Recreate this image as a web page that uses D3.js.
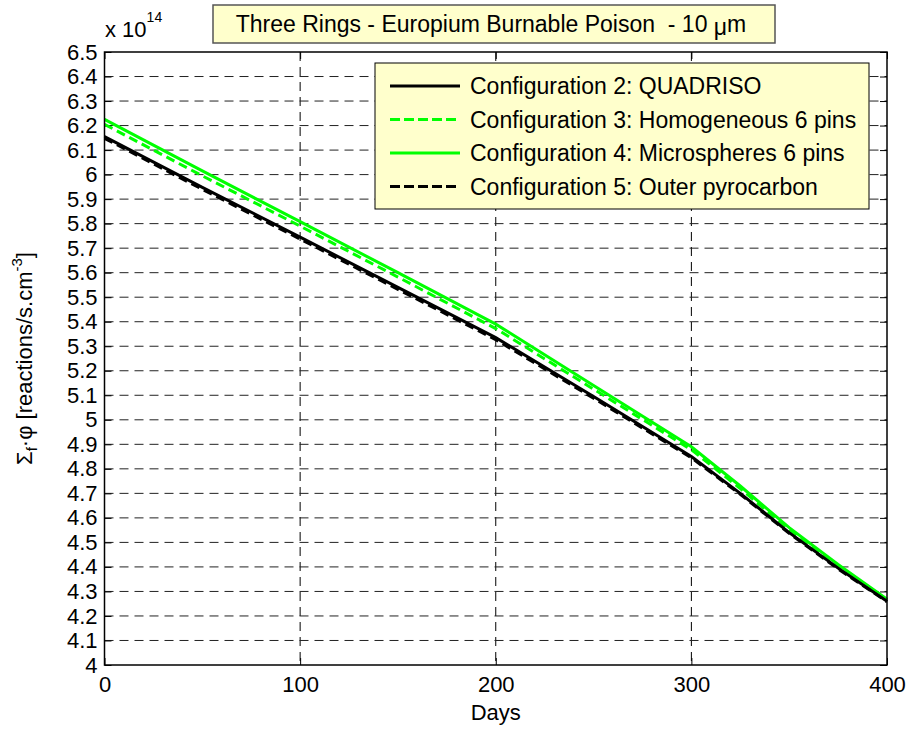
<!DOCTYPE html>
<html><head><meta charset="utf-8">
<script src="https://cdn.jsdelivr.net/npm/d3@7"></script>
<style>body{margin:0;background:#fff}svg{display:block}text{font-family:"Liberation Sans",Arial,sans-serif;fill:#000}</style>
</head><body><svg id="c" width="909" height="730"></svg>
<script>
const days = [0, 50, 100, 150, 200, 250, 300, 325, 350, 375, 400];
const config2 = [6.155, 5.948, 5.745, 5.540, 5.335, 5.095, 4.850, 4.700, 4.540, 4.395, 4.260];
const config3 = [6.205, 5.995, 5.790, 5.582, 5.372, 5.125, 4.878, 4.720, 4.552, 4.405, 4.265];
const config4 = [6.225, 6.015, 5.808, 5.600, 5.390, 5.140, 4.890, 4.730, 4.560, 4.410, 4.268];
const config5 = [6.148, 5.940, 5.737, 5.532, 5.327, 5.088, 4.845, 4.696, 4.537, 4.392, 4.258];
const seriesNames = ["Configuration 2: QUADRISO","Configuration 3: Homogeneous 6 pins","Configuration 4: Microspheres 6 pins","Configuration 5: Outer pyrocarbon"];
const xTicks = [0,100,200,300,400];
const yTicks = d3.range(40,66).map(d=>d/10);
const titleMain = "Three Rings - Europium Burnable Poison  - 10 ";

const svg = d3.select("#c");
const L=104.5,R=887,T=52,B=665;
const x = d3.scaleLinear().domain([0,400]).range([L,R]);
const y = d3.scaleLinear().domain([4,6.5]).range([B,T]);
const FS = 22, FL = 23;

// grid
const g = svg.append("g");
g.selectAll(".gx").data(xTicks.slice(1,-1)).join("line")
 .attr("x1",d=>x(d)).attr("x2",d=>x(d)).attr("y1",T).attr("y2",B)
 .attr("stroke","#000").attr("stroke-width",1).attr("stroke-dasharray","9,6");
g.selectAll(".gy").data(yTicks.slice(1,-1)).join("line")
 .attr("x1",L).attr("x2",R).attr("y1",d=>y(d)).attr("y2",d=>y(d))
 .attr("stroke","#222").attr("stroke-width",1).attr("stroke-dasharray","9,6");

// axes
const ax = svg.append("g").attr("transform",`translate(0,${B})`)
 .call(d3.axisBottom(x).tickValues(xTicks).tickSize(-7).tickPadding(11).tickFormat(d3.format("d")));
const ay = svg.append("g").attr("transform",`translate(${L},0)`)
 .call(d3.axisLeft(y).tickValues(yTicks).tickSize(-7).tickPadding(7).tickFormat(d=>String(+d.toFixed(1))));
const axT = svg.append("g").attr("transform",`translate(0,${T})`)
 .call(d3.axisTop(x).tickValues(xTicks).tickSize(-7).tickFormat(""));
const ayR = svg.append("g").attr("transform",`translate(${R},0)`)
 .call(d3.axisRight(y).tickValues(yTicks).tickSize(-7).tickFormat(""));
[ax,ay,axT,ayR].forEach(a=>{a.select(".domain").remove();a.selectAll("line").attr("stroke","#000");
 a.selectAll("text").style("font-size",FS+"px").style("font-family","'Liberation Sans',Arial,sans-serif").attr("fill","#000");});

// lines
const series = [
 {v:config2,c:"#000",d:null},
 {v:config3,c:"#00ff00",d:"9,5"},
 {v:config4,c:"#00ff00",d:null},
 {v:config5,c:"#000",d:"9,5"}];
const line = d3.line().x((d,i)=>x(days[i])).y(d=>y(d));
[2,1,0,3].forEach(k=>{const s=series[k];
 svg.append("path").datum(s.v).attr("d",line).attr("fill","none").attr("stroke",s.c)
  .attr("stroke-width",3).attr("stroke-dasharray",s.d);});

// box
svg.append("rect").attr("x",L).attr("y",T).attr("width",R-L).attr("height",B-T)
 .attr("fill","none").attr("stroke","#000").attr("stroke-width",1.5);

// legend
const lg = svg.append("g");
lg.append("rect").attr("x",375).attr("y",63).attr("width",494).attr("height",146)
 .attr("fill","#ffffcc").attr("stroke","#000").attr("stroke-width",1);
series.forEach((s,i)=>{const yy=86+i*33.5;
 lg.append("line").attr("x1",390).attr("x2",460).attr("y1",yy).attr("y2",yy)
  .attr("stroke",s.c).attr("stroke-width",3).attr("stroke-dasharray",s.d?"10,4":null);
 lg.append("text").attr("x",470).attr("y",yy).attr("dy","0.36em").style("font-size",FL+"px").text(seriesNames[i]);});

// title box
svg.append("rect").attr("x",213).attr("y",5).attr("width",562).attr("height",38)
 .attr("fill","#ffffcc").attr("stroke","#555").attr("stroke-width",1.5);
const tt = svg.append("text").attr("x",491).attr("y",24).attr("dy","0.36em").attr("text-anchor","middle")
 .style("font-size",FL+"px").style("white-space","pre");
tt.append("tspan").text(titleMain);
tt.append("tspan").attr("dy",3).text("\u03bc");
tt.append("tspan").attr("dy",-3).text("m");

// exponent
const ex = svg.append("text").attr("x",105).attr("y",37).style("font-size",FS+"px");
ex.append("tspan").text("x 10");
ex.append("tspan").attr("dy",-15).style("font-size","14px").text("14");

// x label
svg.append("text").attr("x",(L+R)/2).attr("y",720).attr("text-anchor","middle").style("font-size",FS+"px").text("Days");

// y label
const yl = svg.append("text").attr("transform",`translate(32,${(T+B)/2}) rotate(-90)`).attr("text-anchor","middle").style("font-size",FS+"px").style("white-space","pre");
yl.append("tspan").text("\u03a3");
yl.append("tspan").attr("dy",5).style("font-size","15px").text("f");
yl.append("tspan").attr("dy",-5).text("\u00b7\u03c6 [reactions/s.cm");
yl.append("tspan").attr("dy",-10).style("font-size","15px").text("-3");
yl.append("tspan").attr("dy",10).text("]");
</script></body></html>
